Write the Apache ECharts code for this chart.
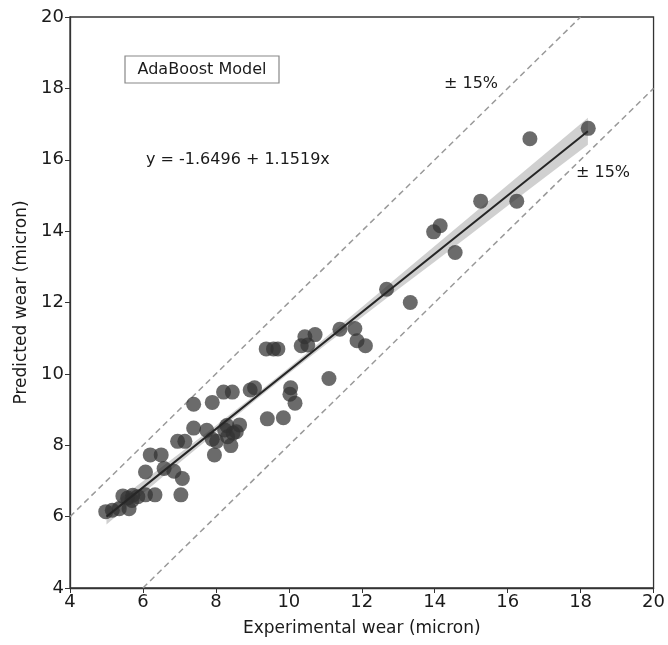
<!DOCTYPE html>
<html>
<head>
<meta charset="utf-8">
<script src="https://cdn.jsdelivr.net/npm/echarts@6/dist/echarts.min.js"></script>
<style>
  html, body { margin: 0; padding: 0; background: #fff; }
  #main { width: 668px; height: 645px; }
</style>
</head>
<body>
<div id="main"></div>
<script>
var expWear = [4.98, 5.16, 5.35, 5.45, 5.58, 5.72, 5.62, 5.70, 5.86, 6.07, 6.33, 6.07, 6.20, 6.50, 6.58, 6.85, 6.95, 7.15, 7.08, 7.04,
  7.39, 7.39, 7.75, 7.90, 7.90, 7.96, 8.02, 8.21, 8.45, 8.30, 8.41, 8.47, 8.65, 8.24, 8.56, 8.32, 8.94, 9.06,
  9.38, 9.58, 9.70, 9.41, 9.85, 10.05, 10.03, 10.17, 10.34, 10.44, 10.52, 10.72, 11.10, 11.40, 11.81, 11.87, 12.10,
  12.68, 13.33, 13.97, 14.15, 14.56, 15.26, 16.25, 16.61, 18.21];
var predWear = [6.14, 6.18, 6.22, 6.58, 6.52, 6.60, 6.22, 6.45, 6.56, 6.61, 6.61, 7.25, 7.73, 7.73, 7.35, 7.27, 8.11, 8.11, 7.07, 6.61,
  9.15, 8.48, 8.42, 9.20, 8.17, 7.73, 8.11, 9.49, 9.49, 8.55, 7.99, 8.34, 8.57, 8.43, 8.38, 8.24, 9.55, 9.61,
  10.70, 10.70, 10.70, 8.74, 8.77, 9.61, 9.43, 9.18, 10.79, 11.04, 10.81, 11.10, 9.87, 11.25, 11.27, 10.93, 10.79,
  12.37, 12.00, 13.98, 14.15, 13.40, 14.84, 14.84, 16.59, 16.88];

// 拟合线 (端点)
var fitX = [5.0, 18.2];
var fitY = [6.0, 16.8];

// 置信区间
var bandX = [5, 6, 7, 8, 9, 10, 11, 12, 13, 14, 15, 16, 17, 18.2];
var bandUpper = [6.22, 6.99, 7.77, 8.55, 9.35, 10.17, 11.01, 11.87, 12.73, 13.58, 14.44, 15.29, 16.15, 17.18];
var bandLower = [5.78, 6.65, 7.51, 8.35, 9.19, 10.01, 10.81, 11.59, 12.37, 13.14, 13.92, 14.71, 15.49, 16.42];

// ±15% 虚线
var upperLineX = [4, 18];
var upperLineY = [6, 20];
var lowerLineX = [6, 20];
var lowerLineY = [4, 18];

function pairs(xs, ys) {
  var res = [];
  for (var i = 0; i < xs.length; i++) res.push([xs[i], ys[i]]);
  return res;
}

var FONT = 'DejaVu Sans';
var myChart = echarts.init(document.getElementById('main'));

var option = {
  backgroundColor: '#fff',
  animation: false,
  textStyle: { fontFamily: FONT },
  grid: {
    left: 70, right: 13, top: 17, bottom: 57,
    show: true, borderColor: '#333', borderWidth: 1.3
  },
  xAxis: {
    type: 'value', min: 4, max: 20, interval: 2,
    name: 'Experimental wear (micron)',
    nameLocation: 'middle', nameGap: 32,
    nameTextStyle: { fontSize: 17, color: '#1a1a1a', fontFamily: FONT },
    axisLine: { show: true, onZero: false, lineStyle: { color: '#333', width: 1.3 } },
    axisTick: { show: true, length: 5, lineStyle: { color: '#333' } },
    axisLabel: { fontSize: 18, color: '#1a1a1a', margin: 5, fontFamily: FONT },
    splitLine: { show: false }
  },
  yAxis: {
    type: 'value', min: 4, max: 20, interval: 2,
    name: 'Predicted wear (micron)',
    nameLocation: 'middle', nameGap: 38, nameRotate: 90,
    nameTextStyle: { fontSize: 17, color: '#1a1a1a', fontFamily: FONT },
    axisLine: { show: true, onZero: false, lineStyle: { color: '#333', width: 1.3 } },
    axisTick: { show: true, length: 5, lineStyle: { color: '#333' } },
    axisLabel: { fontSize: 18, color: '#1a1a1a', margin: 6, fontFamily: FONT },
    splitLine: { show: false }
  },
  series: [
    { // 置信带
      type: 'custom',
      z: 1,
      clip: true,
      renderItem: function (params, api) {
        if (params.dataIndex !== 0) return;
        var pts = [];
        for (var i = 0; i < bandX.length; i++) pts.push(api.coord([bandX[i], bandUpper[i]]));
        for (var j = bandX.length - 1; j >= 0; j--) pts.push(api.coord([bandX[j], bandLower[j]]));
        return {
          type: 'polygon',
          shape: { points: pts },
          style: { fill: 'rgba(150,150,150,0.45)', stroke: 'none' }
        };
      },
      data: pairs(bandX, bandUpper)
    },
    { // 上虚线
      type: 'line', z: 2, symbol: 'none', silent: true,
      lineStyle: { color: '#999', width: 1.5, type: [6, 4] },
      data: pairs(upperLineX, upperLineY)
    },
    { // 下虚线
      type: 'line', z: 2, symbol: 'none', silent: true,
      lineStyle: { color: '#999', width: 1.5, type: [6, 4] },
      data: pairs(lowerLineX, lowerLineY)
    },
    { // 散点
      type: 'scatter', z: 3,
      symbolSize: 15,
      itemStyle: { color: 'rgba(50,50,50,0.9)' },
      data: pairs(expWear, predWear)
    },
    { // 回归线
      type: 'line', z: 4, symbol: 'none', silent: true,
      lineStyle: { color: '#262626', width: 2 },
      data: pairs(fitX, fitY)
    }
  ],
  graphic: [
    {
      type: 'rect', z: 10,
      shape: { x: 125, y: 56, width: 154, height: 27 },
      style: { fill: '#fff', stroke: '#888', lineWidth: 1.2 }
    },
    {
      type: 'text', z: 11, x: 202, y: 70,
      style: { text: 'AdaBoost Model', font: '16px "DejaVu Sans"', fill: '#1a1a1a', align: 'center', verticalAlign: 'middle' }
    },
    {
      type: 'text', z: 11, x: 146, y: 160,
      style: { text: 'y = -1.6496 + 1.1519x', font: '16px "DejaVu Sans"', fill: '#1a1a1a', align: 'left', verticalAlign: 'middle' }
    },
    {
      type: 'text', z: 11, x: 444, y: 84,
      style: { text: '± 15%', font: '16px "DejaVu Sans"', fill: '#1a1a1a', align: 'left', verticalAlign: 'middle' }
    },
    {
      type: 'text', z: 11, x: 576, y: 173,
      style: { text: '± 15%', font: '16px "DejaVu Sans"', fill: '#1a1a1a', align: 'left', verticalAlign: 'middle' }
    }
  ]
};

myChart.setOption(option);
</script>
</body>
</html>
